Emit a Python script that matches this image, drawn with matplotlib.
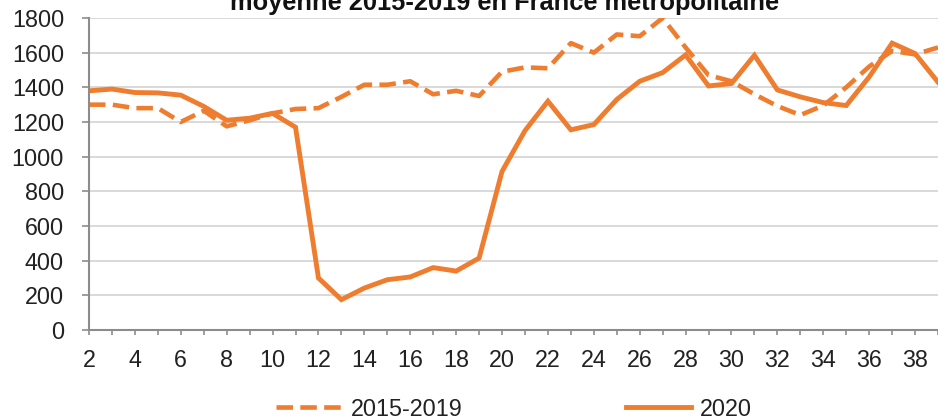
import numpy as np
import matplotlib
matplotlib.use("Agg")
import matplotlib.pyplot as plt

plt.rcParams['font.family'] = ['Liberation Sans', 'DejaVu Sans']

# semaines et valeurs
weeks = list(range(2, 40))
avg_2015_2019 = [1300, 1300, 1280, 1280, 1200, 1265, 1175, 1210, 1250, 1275,
                 1280, 1345, 1415, 1415, 1435, 1360, 1380, 1350, 1490, 1515,
                 1510, 1655, 1600, 1705, 1695, 1800, 1630, 1470, 1435, 1360,
                 1292, 1240, 1295, 1400, 1520, 1610, 1590, 1630]
val_2020 = [1380, 1390, 1370, 1368, 1355, 1290, 1210, 1222, 1250, 1170,
            300, 175, 242, 290, 306, 360, 340, 415, 915, 1150,
            1320, 1155, 1185, 1330, 1435, 1485, 1587, 1408, 1422, 1585,
            1385, 1345, 1312, 1295, 1460, 1655, 1595, 1430]
yticks = list(range(0, 1801, 200))
title = "moyenne 2015-2019 en France métropolitaine"

ORANGE = "#EF7D2F"
W, H = 938, 420
fig = plt.figure(figsize=(W / 100, H / 100), dpi=100)
ax = fig.add_axes([89 / W, 1 - 330 / H, 1 - 89 / W, (330 - 18) / H])

ax.plot(weeks, avg_2015_2019, color=ORANGE, lw=3.3, dashes=(3.6, 1.6),
        dash_capstyle='butt', label="2015-2019")
ax.plot(weeks, val_2020, color=ORANGE, lw=3.5, label="2020",
        solid_joinstyle='miter')

ax.set_xlim(2, 2 + (W - 89) / 23.22)
ax.set_ylim(0, 1800)
ax.set_yticks(yticks)
ax.set_xticks(range(2, 40))
ax.set_xticklabels([str(w) if w % 2 == 0 else "" for w in range(2, 40)])

ax.grid(axis='y', color='#d9d9d9', lw=1.4)
ax.set_axisbelow(True)
for s in ['top', 'right']:
    ax.spines[s].set_visible(False)
for s in ['left', 'bottom']:
    ax.spines[s].set_color('#8c8c8c')
    ax.spines[s].set_linewidth(1.5)
ax.tick_params(axis='both', colors='#8c8c8c', width=1.2, labelcolor='#222222',
               labelsize=16.8)
ax.tick_params(axis='y', length=5, pad=13)
ax.tick_params(axis='x', length=3.6, pad=10)

fig.text(505 / W, 1 - 10 / H, title, ha='center', va='baseline',
         fontsize=18.3, fontweight='bold', color='#111111')

fig.legend(loc='center', bbox_to_anchor=(514 / W, 1 - 409 / H), ncol=2,
           frameon=False, fontsize=16.8, handlelength=2.8, handletextpad=0.4,
           columnspacing=7.0, labelcolor='#222222')

fig.savefig("out.png", dpi=100)
